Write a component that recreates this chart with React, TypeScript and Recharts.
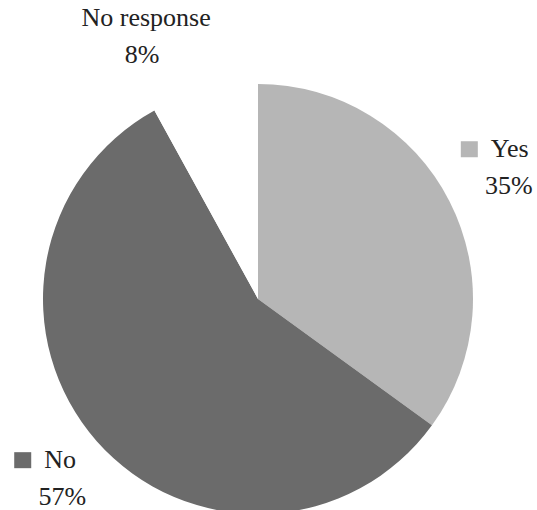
import React from 'react';
import { PieChart, Pie, Cell } from 'recharts';

const LABELS = ['Yes', 'No', 'No response'];
const SHARES = [35, 57, 8];
const COLORS = ['#b6b6b6', '#6b6b6b', '#ffffff'];

const data = LABELS.map((name, i) => ({ name, value: SHARES[i] }));

const RAD = Math.PI / 180;
const TEXT_STYLE = { fontFamily: "'Liberation Serif', 'Times New Roman', Times, serif", fontSize: 26 };

// small manual nudges so labels sit where the original put them
const NUDGE = [
  { dx: 4, dy: 0 },
  { dx: 12, dy: 2 },
  { dx: -47, dy: 11 },
];

const renderLabel = (props: any) => {
  const { cx, cy, midAngle, outerRadius, index, name, percent } = props;
  const r = outerRadius + 62;
  const x = cx + r * Math.cos(-midAngle * RAD) + NUDGE[index].dx;
  const y = cy + r * Math.sin(-midAngle * RAD) + NUDGE[index].dy;
  const pct = `${Math.round(percent * 100)}%`;
  const hasSwatch = index !== 2;
  const base1 = y - 16;
  const base2 = base1 + 37;
  const textX = hasSwatch ? x - 18 : x + 4;
  return (
    <g>
      {hasSwatch && (
        <rect x={textX - 30} y={base1 - 16} width={17} height={16} fill={COLORS[index]} />
      )}
      <text x={textX} y={base1} textAnchor={hasSwatch ? 'start' : 'middle'} fill="#222" style={TEXT_STYLE}>
        {name}
      </text>
      <text x={x} y={base2} textAnchor="middle" fill="#222" style={TEXT_STYLE}>
        {pct}
      </text>
    </g>
  );
};

export default function App() {
  return (
    <div style={{ position: 'absolute', left: 0, top: 0, background: '#fff' }}>
      <PieChart width={537} height={510} margin={{ top: 0, right: 0, bottom: 0, left: 0 }}>
        <Pie
          data={data}
          dataKey="value"
          nameKey="name"
          cx={258}
          cy={299}
          outerRadius={215}
          startAngle={90}
          endAngle={-270}
          stroke="none"
          label={renderLabel}
          labelLine={false}
          isAnimationActive={false}
        >
          {data.map((_, i) => (
            <Cell key={`cell-${i}`} fill={COLORS[i]} />
          ))}
        </Pie>
      </PieChart>
    </div>
  );
}
